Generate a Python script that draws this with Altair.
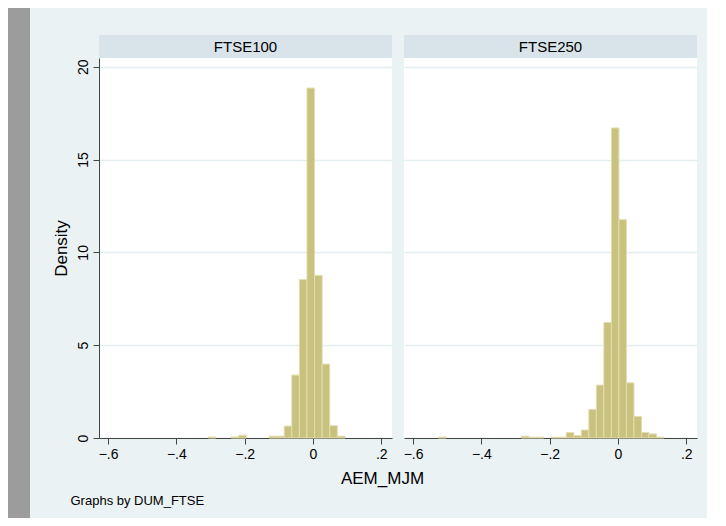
import altair as alt
import pandas as pd

FONT = "Liberation Sans"
BG = "#EAF2F3"
HEADER_FILL = "#D8E4E9"
GRID = "#E4EDF0"
BAR_FILL = "#C9C17E"
BAR_EDGE = "#E2DDAE"
AXIS_COL = "#444444"
GREY = "#9C9C9C"

PANELS = ["FTSE100", "FTSE250"]
X_TITLE = "AEM_MJM"
Y_TITLE = "Density"
NOTE = "Graphs by DUM_FTSE"

# histogram bins (bin start, density)
ftse100_bin_width = 0.0222
ftse100_start = [-0.3062, -0.2396, -0.2174, -0.1286, -0.1064, -0.0842, -0.0620,
                 -0.0398, -0.0176, 0.0046, 0.0268, 0.0490, 0.0712]
ftse100_density = [0.05, 0.05, 0.15, 0.10, 0.10, 0.64, 3.39,
                   8.53, 18.85, 8.76, 3.98, 0.66, 0.10]

ftse250_bin_width = 0.0220
ftse250_start = [-0.5253, -0.2833, -0.2613, -0.2393, -0.1953, -0.1733, -0.1513,
                 -0.1293, -0.1073, -0.0853, -0.0633, -0.0413, -0.0193, 0.0027,
                 0.0247, 0.0467, 0.0687, 0.0907, 0.1127]
ftse250_density = [0.05, 0.10, 0.04, 0.04, 0.04, 0.04, 0.29,
                   0.13, 0.43, 1.54, 2.85, 6.22, 16.70, 11.76,
                   2.97, 1.16, 0.30, 0.22, 0.04]

X_TICKS = [-0.6, -0.4, -0.2, 0, 0.2]
Y_TICKS = [0, 5, 10, 15, 20]
X_DOMAIN = [-0.6265, 0.2313]
Y_DOMAIN = [0, 20.47]

PW, PH, HH = 293, 380, 23

dummy = pd.DataFrame({"a": [0]})
LABEL_EXPR = "replace(format(datum.value, '.1~f'), '0.', '.')"


def spacer(w, h, fill=None):
    view = alt.ViewBackground(fill=fill, stroke=None) if fill else alt.ViewBackground(stroke=None)
    return alt.Chart(dummy).mark_rect(opacity=0).encode(
        x=alt.value(0), x2=alt.value(1), y=alt.value(0), y2=alt.value(1)
    ).properties(width=w, height=h, view=view)


def panel(name, starts, dens, bw, first):
    df = pd.DataFrame({"start": starts, "density": dens})
    df["end"] = df["start"] + bw
    df["base"] = 0.0

    header = alt.Chart(pd.DataFrame({"panel": [name]})).mark_text(
        font=FONT, fontSize=15, color="#000000", baseline="middle", align="center"
    ).encode(text="panel:N", x=alt.value(PW / 2), y=alt.value(HH / 2)).properties(
        width=PW, height=HH, view=alt.ViewBackground(fill=HEADER_FILL, stroke=None)
    )

    if first:
        yaxis = alt.Axis(values=Y_TICKS, title=Y_TITLE, labelAngle=270,
                         labelAlign="center", labelBaseline="bottom",
                         labelFontSize=14, labelPadding=3, tickSize=6,
                         titleFontSize=17, titlePadding=6, titleFontWeight="normal",
                         grid=True)
        xaxis = alt.Axis(values=X_TICKS, title=NOTE, labelExpr=LABEL_EXPR,
                         labelFontSize=14, labelPadding=3, tickSize=6, grid=False,
                         titleFontSize=13, titleFontWeight="normal",
                         titleX=-29, titleY=66, titleAlign="left",
                         titleBaseline="alphabetic")
    else:
        yaxis = alt.Axis(values=Y_TICKS, title=None, labels=False, ticks=False,
                         domain=False, grid=True, minExtent=0, maxExtent=0)
        xaxis = alt.Axis(values=X_TICKS, title=None, labelExpr=LABEL_EXPR,
                         labelFontSize=14, labelPadding=3, tickSize=6, grid=False)

    hist = alt.Chart(df).mark_rect(
        fill=BAR_FILL, stroke=BAR_EDGE, strokeWidth=1
    ).encode(
        x=alt.X("start:Q", scale=alt.Scale(domain=X_DOMAIN, nice=False, zero=False), axis=xaxis),
        x2="end:Q",
        y=alt.Y("density:Q", scale=alt.Scale(domain=Y_DOMAIN, nice=False), axis=yaxis),
        y2="base:Q",
    ).properties(width=PW, height=PH, view=alt.ViewBackground(fill="#FFFFFF", stroke=None))

    return alt.vconcat(spacer(PW, 27), header, hist, spacing=0)


p1 = panel(PANELS[0], ftse100_start, ftse100_density, ftse100_bin_width, True)
p2 = panel(PANELS[1], ftse250_start, ftse250_density, ftse250_bin_width, False)

inner = alt.hconcat(p1, p2, spacing=11).properties(
    title=alt.TitleParams(X_TITLE, orient="bottom", anchor="middle",
                          font=FONT, fontSize=17, fontWeight="normal",
                          color="#000000", offset=-36, dx=8)
)

chart = alt.hconcat(spacer(22, 510, GREY), spacer(22, 10), inner, spacer(10, 10),
                    spacing=0).properties(
    padding=0, background=BG
).configure(font=FONT).configure_view(stroke=None).configure_axis(
    domainColor=AXIS_COL, tickColor=AXIS_COL, labelColor="#000000", titleColor="#000000",
    gridColor=GRID, gridWidth=1.5, labelFont=FONT, titleFont=FONT
)

chart.save("out.html", embed_options={"renderer": "svg", "actions": False})
